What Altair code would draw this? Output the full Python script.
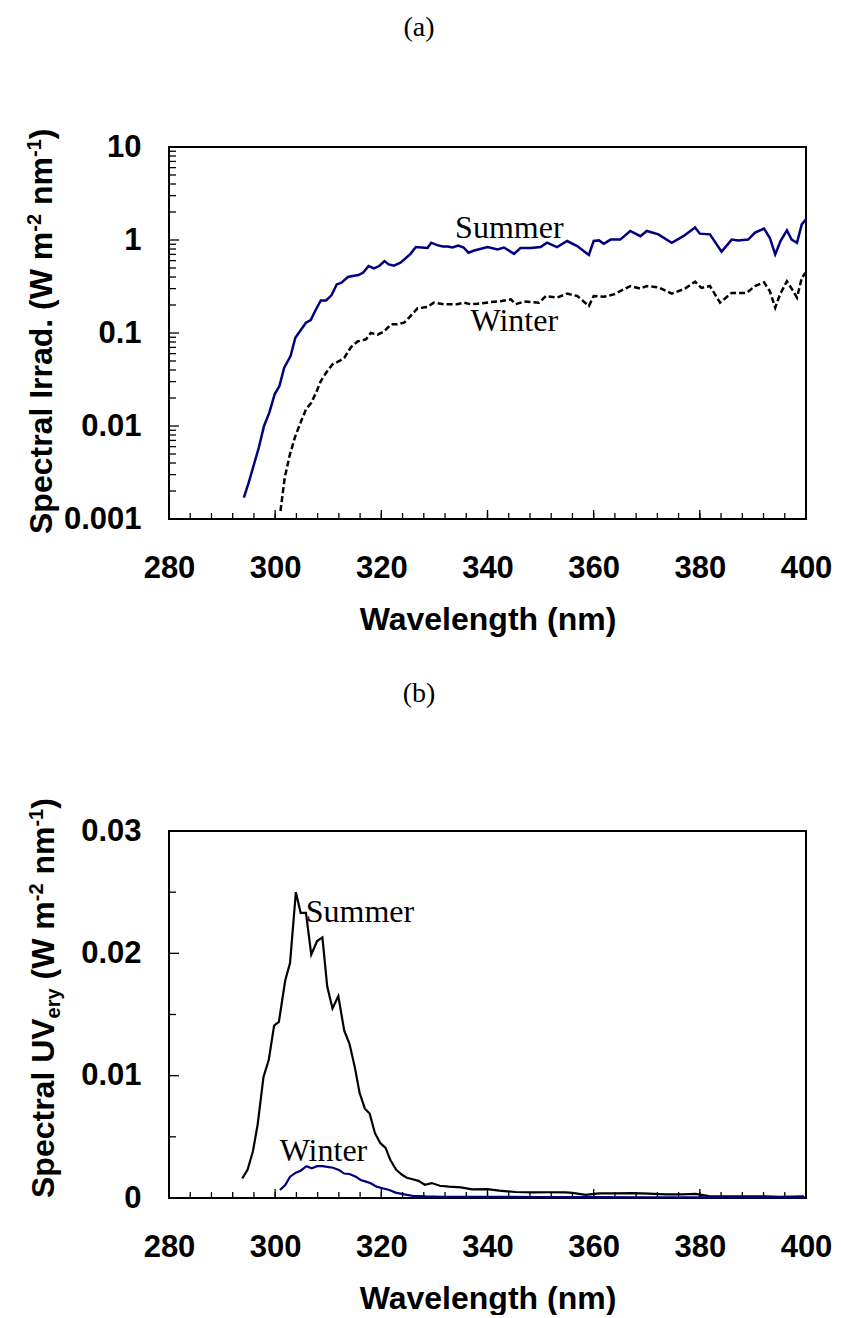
import altair as alt
import pandas as pd

# ---------------- data ----------------
a_sum_wl = [294.1, 295.0, 296.9, 297.9, 298.9, 299.9, 300.8, 301.7, 302.9, 303.8,
            304.7, 305.8, 306.7, 307.7, 308.6, 309.6, 310.6, 311.6, 312.5, 313.7,
            314.6, 315.7, 316.6, 317.6, 318.6, 319.6, 320.6, 321.4, 322.4, 323.6,
            324.5, 325.5, 326.5, 327.6, 328.7, 329.4, 330.5, 331.6, 332.5, 333.4,
            334.5, 335.5, 336.4, 337.5, 338.6, 340.0, 341.9, 343.1, 345.0, 346.2,
            348.1, 350.0, 351.2, 353.1, 355.0, 356.9, 359.1, 360.0, 361.0, 361.9,
            363.2, 365.0, 366.9, 368.8, 370.0, 372.2, 374.7, 376.9, 379.1, 380.0,
            381.9, 384.1, 386.0, 387.2, 389.1, 390.4, 392.1, 393.2, 394.2, 395.2,
            396.4, 397.3, 398.3, 399.2, 400.0]
a_sum_val = [0.0017, 0.00245, 0.0058, 0.010, 0.0139, 0.0219, 0.0269, 0.0424, 0.0566, 0.089,
             0.105, 0.129, 0.138, 0.18, 0.224, 0.224, 0.254, 0.333, 0.347, 0.40,
             0.41, 0.42, 0.446, 0.525, 0.495, 0.525, 0.594, 0.547, 0.53, 0.57,
             0.63, 0.71, 0.84, 0.83, 0.82, 0.935, 0.88, 0.85, 0.85, 0.83,
             0.87, 0.83, 0.73, 0.77, 0.80, 0.84, 0.79, 0.83, 0.71, 0.82,
             0.82, 0.84, 0.935, 0.84, 0.975, 0.86, 0.69, 0.975, 0.99, 0.91,
             1.01, 1.01, 1.25, 1.10, 1.25, 1.15, 0.935, 1.10, 1.36, 1.17,
             1.15, 0.75, 1.01, 0.99, 1.01, 1.20, 1.33, 1.05, 0.70, 0.975,
             1.27, 1.01, 0.935, 1.47, 1.67]

a_win_wl = [301.0, 301.8, 302.7, 303.7, 304.9, 305.8, 306.8, 307.7, 308.6, 309.6,
            310.8, 312.1, 313.0, 314.3, 315.5, 317.1, 318.0, 319.3, 320.5, 321.8,
            323.0, 324.3, 325.5, 326.8, 328.6, 329.9, 331.8, 334.3, 335.5, 336.8,
            338.1, 340.6, 342.5, 344.4, 345.3, 346.9, 349.7, 351.0, 353.1, 355.0,
            356.9, 359.1, 360.0, 361.9, 363.8, 366.9, 368.8, 370.0, 372.2, 374.7,
            377.2, 379.1, 380.3, 381.9, 383.8, 386.0, 388.8, 390.4, 392.1, 393.2,
            394.2, 395.1, 396.4, 397.3, 398.3, 399.2, 399.9]
a_win_val = [0.00122, 0.00278, 0.00475, 0.0075, 0.0113, 0.0151, 0.0178, 0.0228, 0.0305, 0.0374,
             0.046, 0.050, 0.054, 0.0706, 0.081, 0.0855, 0.100, 0.096, 0.104, 0.124,
             0.124, 0.129, 0.152, 0.184, 0.190, 0.212, 0.204, 0.204, 0.212, 0.204,
             0.206, 0.215, 0.22, 0.23, 0.204, 0.218, 0.212, 0.25, 0.24, 0.265,
             0.25, 0.195, 0.25, 0.245, 0.26, 0.32, 0.30, 0.32, 0.31, 0.265,
             0.30, 0.356, 0.305, 0.32, 0.212, 0.27, 0.27, 0.32, 0.35, 0.28,
             0.187, 0.26, 0.36, 0.30, 0.24, 0.39, 0.445]

b_sum_wl = [293.8, 294.8, 295.8, 296.7, 297.8, 298.8, 299.8, 300.7, 301.9, 302.8,
            303.9, 304.8, 305.8, 306.8, 307.9, 308.9, 309.8, 310.8, 311.9, 313.0,
            314.0, 315.0, 315.9, 316.9, 317.8, 318.8, 319.8, 320.8, 321.7, 322.8,
            323.9, 324.8, 325.9, 327.0, 328.2, 329.5, 331.0, 332.7, 335.0, 337.1,
            340.0, 342.2, 345.3, 348.5, 351.6, 354.7, 356.0, 358.5, 361.0, 364.1,
            367.3, 370.4, 373.6, 376.7, 379.2, 381.7, 384.2, 389.2, 392.4, 394.9,
            397.4, 399.6]
b_sum_val = [0.0016, 0.0023, 0.0038, 0.0060, 0.0099, 0.0113, 0.0141, 0.0144, 0.0178, 0.0192,
             0.0250, 0.0233, 0.0233, 0.0199, 0.0210, 0.0213, 0.0173, 0.0155, 0.0165, 0.0137,
             0.0126, 0.0107, 0.0086, 0.0073, 0.0069, 0.0053, 0.0045, 0.0041, 0.0031, 0.0023,
             0.0019, 0.00166, 0.00153, 0.0014, 0.00108, 0.00122, 0.0010, 0.00093, 0.00087, 0.00071,
             0.00072, 0.0006, 0.00049, 0.00046, 0.00047, 0.00046, 0.00042, 0.00025, 0.00038, 0.00038,
             0.0004, 0.00035, 0.0003, 0.0003, 0.00033, 0.00016, 0.00014, 0.00014, 0.00014, 0.0001,
             0.00012, 0.00014]

b_win_wl = [300.9, 301.9, 302.8, 303.9, 304.8, 305.9, 306.9, 307.9, 308.9, 309.8,
            310.9, 312.0, 313.0, 314.0, 315.2, 316.1, 317.1, 318.0, 319.1, 320.2,
            321.5, 322.7, 324.3, 325.9, 328.4, 331.5, 340.0, 350.0, 360.0, 370.0,
            380.0, 390.0, 400.0]
b_win_val = [0.00065, 0.00106, 0.00174, 0.00207, 0.00223, 0.0026, 0.00243, 0.0026, 0.0026, 0.00255,
             0.00247, 0.0023, 0.0020, 0.00196, 0.00174, 0.00147, 0.00134, 0.0012, 0.00093, 0.0008,
             0.00065, 0.00044, 0.0003, 0.00018, 0.00013, 0.0001, 0.0001, 0.00008, 0.00007, 0.00006,
             0.00005, 0.00005, 0.00005]

x_labels = [280, 300, 320, 340, 360, 380, 400]
x_minor = list(range(280, 401, 4))
a_y_labels = [0.001, 0.01, 0.1, 1, 10]
a_y_minor = [k * 10.0 ** e for e in range(-3, 1) for k in range(2, 10)]
b_y_labels = [0, 0.01, 0.02, 0.03]
b_y_minor = [0.005, 0.015, 0.025]

a_notes = pd.DataFrame({"wl": [333.9, 336.8], "val": [1.04, 0.105], "t": ["Summer", "Winter"]})
b_notes = pd.DataFrame({"wl": [305.75, 300.85], "val": [0.0226, 0.0030], "t": ["Summer", "Winter"]})

# ---------------- style ----------------
W = 637
HA = 372
HB = 367
SANS = "Liberation Sans"
SERIF = "Liberation Serif"
NAVY = "#000080"


def xenc():
    return alt.X("wl:Q", scale=alt.Scale(domain=[280, 400], nice=False, zero=False),
                 axis=alt.Axis(values=x_labels, title="Wavelength (nm)", domain=False, ticks=False,
                               grid=False, labelFlush=False, labelOverlap=False, labelFont=SANS,
                               labelFontSize=31, labelFontWeight="bold", labelColor="black",
                               labelPadding=34, titleFont=SANS, titleFontSize=32,
                               titleFontWeight="bold", titleColor="black", titlePadding=21))


def yaxis(values):
    return alt.Axis(values=values, title=None, domain=False, ticks=False, grid=False,
                    labelFlush=False, labelOverlap=False, labelFont=SANS, labelFontSize=31,
                    labelFontWeight="bold", labelColor="black", labelPadding=28, format="~g")


def yenc_a():
    return alt.Y("val:Q", scale=alt.Scale(type="log", domain=[0.001, 10], nice=False),
                 axis=yaxis(a_y_labels))


def yenc_b():
    return alt.Y("val:Q", scale=alt.Scale(domain=[0, 0.03], nice=False, zero=True),
                 axis=yaxis(b_y_labels))


def df(wl, val):
    return pd.DataFrame({"wl": wl, "val": val})


def ytitle(segments, x0, y0):
    """segments: list of (text, size, shift, advance)"""
    layers = []
    y = y0
    for text, size, shift, adv in segments:
        layers.append(
            alt.Chart(pd.DataFrame({"t": [text]})).mark_text(
                angle=270, align="left", baseline="alphabetic", font=SANS,
                fontWeight="bold", fontSize=size, color="black"
            ).encode(x=alt.value(x0 + shift), y=alt.value(y), text="t:N")
        )
        y -= adv
    return layers


def ticks(yenc, H, xmajor, xminor, ymajor, yminor):
    L = []
    L.append(alt.Chart(pd.DataFrame({"wl": xminor})).mark_rule(color="black", strokeWidth=1.3)
             .encode(x=xenc(), y=alt.value(H), y2=alt.value(H - 6)))
    L.append(alt.Chart(pd.DataFrame({"wl": xmajor})).mark_rule(color="black", strokeWidth=1.3)
             .encode(x=xenc(), y=alt.value(H), y2=alt.value(H - 9)))
    L.append(alt.Chart(pd.DataFrame({"val": yminor})).mark_rule(color="black", strokeWidth=1.3)
             .encode(y=yenc(), x=alt.value(0), x2=alt.value(7)))
    L.append(alt.Chart(pd.DataFrame({"val": ymajor})).mark_rule(color="black", strokeWidth=1.3)
             .encode(y=yenc(), x=alt.value(0), x2=alt.value(10)))
    return L


def label(text, x, y):
    return alt.Chart(pd.DataFrame({"t": [text]})).mark_text(
        align="center", baseline="middle", font=SERIF, fontSize=28, color="black"
    ).encode(x=alt.value(x), y=alt.value(y), text="t:N")


# ---------------- panel (a) ----------------
a_sum = alt.Chart(df(a_sum_wl, a_sum_val)).mark_line(color=NAVY, strokeWidth=2.5).encode(
    x=xenc(), y=yenc_a())
a_win = alt.Chart(df(a_win_wl, a_win_val)).mark_line(color="black", strokeWidth=2.5,
                                                     strokeDash=[6, 3]).encode(x=xenc(), y=yenc_a())
a_txt = alt.Chart(a_notes).mark_text(align="left", baseline="alphabetic", font=SERIF,
                                     fontSize=32, color="black").encode(
    x=xenc(), y=yenc_a(), text="t:N")

F, f = 32, 20
SP = 278 * F / 1000
seg_a = [("Spectral Irrad. (W m", F, 0, 9447 * F / 1000),
         ("-2", f, -11, 889 * f / 1000 + SP),
         ("nm", F, 0, 1500 * F / 1000),
         ("-1", f, -11, 889 * f / 1000),
         (")", F, 0, 0)]
seg_b = [("Spectral UV", F, 0, 5613 * F / 1000),
         ("ery", f, 6, 1501 * f / 1000 + SP),
         ("(W m", F, 0, 2444 * F / 1000),
         ("-2", f, -11, 889 * f / 1000 + SP),
         ("nm", F, 0, 1500 * F / 1000),
         ("-1", f, -11, 889 * f / 1000),
         (")", F, 0, 0)]

panel_a = alt.layer(
    *ticks(yenc_a, HA, x_labels, x_minor, a_y_labels, a_y_minor),
    a_win, a_sum, a_txt,
    *ytitle(seg_a, -117, 387),
    label("(a)", 250, -119),
).properties(width=W, height=HA)

# ---------------- panel (b) ----------------
b_sum = alt.Chart(df(b_sum_wl, b_sum_val)).mark_line(color="black", strokeWidth=2.2).encode(
    x=xenc(), y=yenc_b())
b_win = alt.Chart(df(b_win_wl, b_win_val)).mark_line(color=NAVY, strokeWidth=2.2).encode(
    x=xenc(), y=yenc_b())
b_txt = alt.Chart(b_notes).mark_text(align="left", baseline="alphabetic", font=SERIF,
                                     fontSize=32, color="black").encode(
    x=xenc(), y=yenc_b(), text="t:N")

panel_b = alt.layer(
    *ticks(yenc_b, HB, x_labels, x_minor, b_y_labels, b_y_minor),
    b_sum, b_win, b_txt,
    *ytitle(seg_b, -115, 367),
    label("(b)", 250, -137),
).properties(width=W, height=HB)

chart = alt.vconcat(panel_a, panel_b, spacing=43).properties(
    padding={"left": 16, "top": 5, "right": 0, "bottom": 0}
).configure(background="white").configure_view(stroke="black", strokeWidth=2)

chart.save("out.html", embed_options={"renderer": "svg", "actions": False})
